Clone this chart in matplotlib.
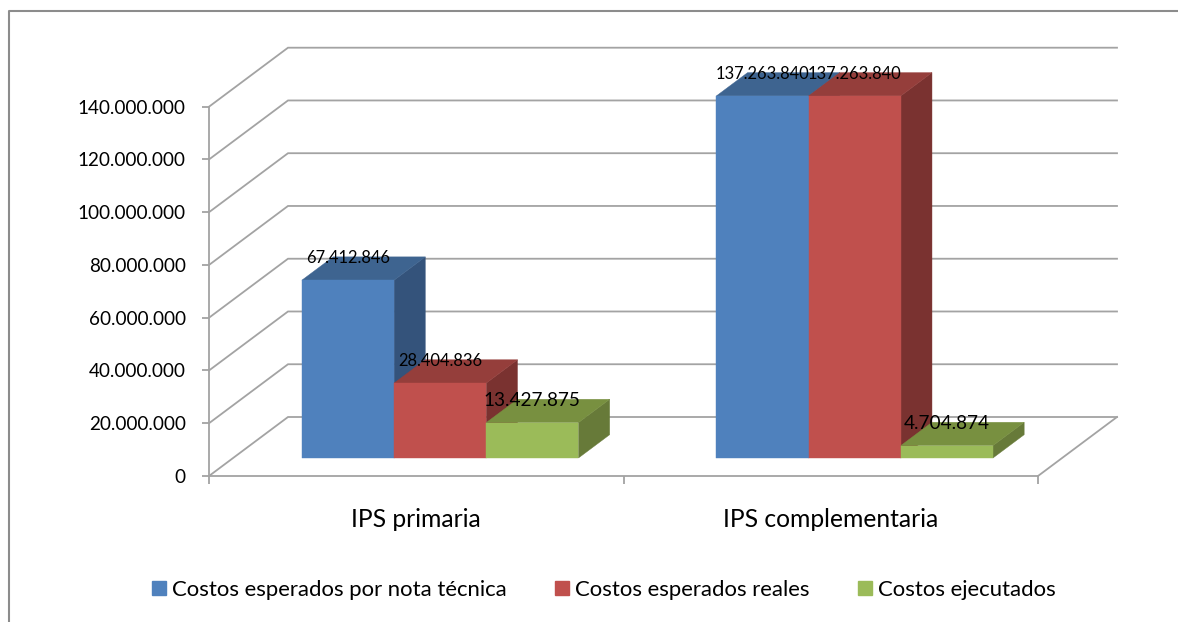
import matplotlib
matplotlib.use('Agg')
import matplotlib.pyplot as plt
from matplotlib.lines import Line2D
from matplotlib.patches import Patch, Polygon
from matplotlib.ticker import FuncFormatter

plt.rcParams['font.family'] = ['Lato', 'DejaVu Sans']

categories = ['IPS primaria', 'IPS complementaria']
series_names = ['Costos esperados por nota técnica', 'Costos esperados reales', 'Costos ejecutados']
nota_tecnica = [67412846, 137263840]
reales = [28404836, 137263840]
ejecutados = [13427875, 4704874]
y_ticks = [0, 20000000, 40000000, 60000000, 80000000, 100000000, 120000000, 140000000]

# front, top, side colours per series
front_colors = ['#4F81BD', '#C0504D', '#9BBB59']
top_colors = ['#3E6490', '#953E3B', '#789040']
side_colors = ['#34537B', '#7A3230', '#677A39']
label_sizes = [11.9, 11.9, 13.7]
GRID = '#A3A3A3'

W, H = 1178, 622
fig = plt.figure(figsize=(W / 100, H / 100), dpi=100)
ax = fig.add_axes([209 / W, 1 - 476 / H, (1038 - 209) / W, (476 - 106.7) / H])
ax.set_xlim(0, 2)
ax.set_ylim(0, 140000000)
ax.patch.set_visible(False)

# how far the back wall is shifted, in data units
DEPTH_X = 79 / 414.5
DEPTH_Y = 59 / 369.3 * 140000000
BAR_W = 0.2224
GAP = 0.166
BAR_D0 = 0.305
BAR_D1 = 0.70


def proj(x, v, d):
    return (x + d * DEPTH_X, v + d * DEPTH_Y)


def poly(points, color, z):
    ax.add_patch(Polygon(points, closed=True, facecolor=color, edgecolor=color,
                         linewidth=0.3, clip_on=False, zorder=z))


# walls and floor
for v in y_ticks:
    xs = [0, DEPTH_X, 2 + DEPTH_X]
    ys = [v, v + DEPTH_Y, v + DEPTH_Y]
    ax.plot(xs, ys, color=GRID, lw=1.3, clip_on=False, zorder=1, solid_joinstyle='miter')
ax.plot([2, 2 + DEPTH_X], [0, DEPTH_Y], color=GRID, lw=1.3, clip_on=False, zorder=1)

# bars
z = 2
for i, values in enumerate([nota_tecnica, reales, ejecutados]):
    for c, v in enumerate(values):
        x0 = c + GAP + i * BAR_W
        x1 = x0 + BAR_W
        poly([proj(x1, 0, BAR_D0), proj(x1, 0, BAR_D1), proj(x1, v, BAR_D1), proj(x1, v, BAR_D0)],
             side_colors[i], z)
        poly([proj(x0, v, BAR_D0), proj(x1, v, BAR_D0), proj(x1, v, BAR_D1), proj(x0, v, BAR_D1)],
             top_colors[i], z)
        poly([proj(x0, 0, BAR_D0), proj(x1, 0, BAR_D0), proj(x1, v, BAR_D0), proj(x0, v, BAR_D0)],
             front_colors[i], z)
        lx = proj((x0 + x1) / 2, v, BAR_D0)[0]
        ly = proj((x0 + x1) / 2, v, BAR_D1)[1]
        ax.text(lx, ly, f'{v:,}'.replace(',', '.'), ha='center', va='center_baseline',
                fontsize=label_sizes[i], color='black', zorder=20)
        z += 1

# axes
for s in ['top', 'right']:
    ax.spines[s].set_visible(False)
for s in ['left', 'bottom']:
    ax.spines[s].set_color(GRID)
    ax.spines[s].set_linewidth(1.3)
ax.set_yticks(y_ticks)
ax.yaxis.set_major_formatter(FuncFormatter(lambda v, p: f'{int(v):,}'.replace(',', '.')))
ax.tick_params(axis='y', length=4.7, width=1.3, color=GRID, pad=12, labelsize=13.6, labelcolor='black')
ax.set_xticks([0, 1, 2])
ax.set_xticklabels([])
ax.tick_params(axis='x', which='major', length=5.8, width=1.3, color=GRID)
ax.set_xticks([0.5, 1.5], categories, minor=True)
ax.tick_params(axis='x', which='minor', length=0, pad=23, labelsize=17.7, labelcolor='black')

# legend
handles = [Patch(facecolor=c, edgecolor=c) for c in front_colors]
fig.legend(handles, series_names, loc='center', bbox_to_anchor=(604 / W, 1 - 590 / H), ncol=3,
           frameon=False, fontsize=15.9, handlelength=0.62, handleheight=0.62,
           handletextpad=0.27, columnspacing=2.2, labelcolor='black')

# outer frame
fig.add_artist(Line2D([9 / W, 9 / W, 1], [0, 1 - 11 / H, 1 - 11 / H], color='#8C8C8C', lw=1.5))

fig.savefig('out.png', dpi=100)
